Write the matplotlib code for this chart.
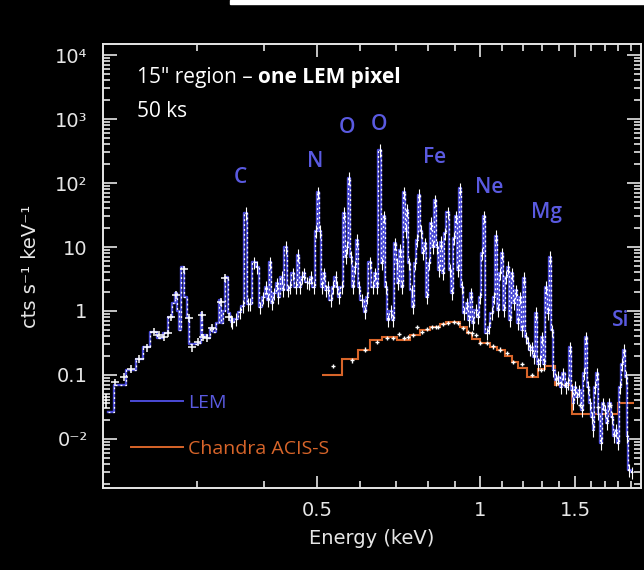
import numpy as np
import matplotlib
matplotlib.use('Agg')
import matplotlib.pyplot as plt
from matplotlib.lines import Line2D
from matplotlib.patches import Rectangle
from matplotlib.ticker import NullFormatter, LogLocator, FixedLocator

# LEM model spectrum (bin centres in keV, cts/s/keV)
lem_energy = [
    0.2055, 0.216, 0.228, 0.235, 0.242, 0.249, 0.2576, 0.2631, 0.2676, 0.2722,
    0.2746, 0.2769, 0.2793, 0.2817, 0.2853, 0.2890, 0.2915, 0.2977, 0.3041, 0.3054,
    0.3067, 0.3106, 0.3159, 0.3186, 0.3240, 0.3282, 0.3311, 0.3325, 0.3367, 0.3396,
    0.3440, 0.3469, 0.3483, 0.3543, 0.3604, 0.3650, 0.3697, 0.3729, 0.3761, 0.3825,
    0.3875, 0.3925, 0.3975, 0.4026, 0.4061, 0.4096, 0.4131, 0.4166, 0.4219, 0.4236,
    0.4309, 0.4327, 0.4383, 0.4420, 0.4458, 0.4515, 0.4573, 0.4612, 0.4652, 0.4691,
    0.4731, 0.4792, 0.4833, 0.4874, 0.4937, 0.4979, 0.5021, 0.5064, 0.5108, 0.5151,
    0.5195, 0.5240, 0.5307, 0.5352, 0.5421, 0.5444, 0.5490, 0.5561, 0.5608, 0.5656,
    0.5680, 0.5729, 0.5778, 0.5828, 0.5877, 0.5928, 0.5978, 0.6055, 0.6133, 0.6185,
    0.6264, 0.6345, 0.6399, 0.6453, 0.6536, 0.6592, 0.6648, 0.6705, 0.6762, 0.6849,
    0.6907, 0.6966, 0.7026, 0.7056, 0.7116, 0.7177, 0.7238, 0.7300, 0.7331, 0.7393,
    0.7488, 0.7520, 0.7584, 0.7649, 0.7714, 0.7780, 0.7847, 0.7914, 0.7982, 0.8050,
    0.8119, 0.8188, 0.8259, 0.8329, 0.8400, 0.8472, 0.8545, 0.8618, 0.8726, 0.8801,
    0.8876, 0.8953, 0.9029, 0.9107, 0.9185, 0.9263, 0.9343, 0.9462, 0.9543, 0.9625,
    0.9707, 0.9831, 0.9915, 1.0000, 1.0086, 1.0171, 1.0302, 1.0390, 1.0524, 1.0614,
    1.0704, 1.0796, 1.0889, 1.0982, 1.1075, 1.1170, 1.1266, 1.1362, 1.1459, 1.1557,
    1.1656, 1.1756, 1.1856, 1.1958, 1.2060, 1.2163, 1.2267, 1.2372, 1.2478, 1.2585,
    1.2692, 1.2801, 1.2910, 1.3021, 1.3132, 1.3244, 1.3358, 1.3472, 1.3587, 1.3645,
    1.3820, 1.3939, 1.4117, 1.4238, 1.4420, 1.4544, 1.4668, 1.4794, 1.4857, 1.4984,
    1.5112, 1.5241, 1.5437, 1.5569, 1.5702, 1.5837, 1.5972, 1.6109, 1.6177, 1.6316,
    1.6455, 1.6526, 1.6738, 1.6881, 1.7026, 1.7171, 1.7318, 1.7541, 1.7691, 1.7842,
    1.7995, 1.8149, 1.8304, 1.8460, 1.8618, 1.8698, 1.8858, 1.9100,
]
lem_rate = [
    0.026, 0.07, 0.12, 0.18, 0.27, 0.47, 0.38, 0.45, 0.8, 1.33,
    1.9, 1.0, 0.5, 4.9, 1.65, 0.8, 0.3, 0.31, 0.32, 0.93,
    0.39, 0.42, 0.38, 0.54, 0.47, 0.65, 1.5, 0.65, 1.0, 3.4,
    0.93, 0.72, 0.67, 0.75, 0.96, 1.2, 34, 1.3, 1.3, 5.8,
    4.9, 1.15, 1.65, 2.4, 1.5, 5.8, 1.33, 1.9, 2.7, 1.65,
    3.4, 2.1, 10, 2.1, 2.4, 3.9, 2.4, 7.5, 2.4, 3.4,
    3.9, 2.8, 2.7, 3.4, 2.4, 18, 72, 18, 2.4, 3.9,
    2.1, 2.4, 1.5, 2.4, 3.4, 2.4, 1.65, 2.4, 34, 7,
    10, 120, 7, 2.4, 4.9, 13, 2.4, 1.5, 0.96, 1.65,
    5.8, 2.4, 3.9, 2.4, 330, 5.6, 30, 2.4, 0.72, 1.0,
    0.72, 11.5, 5.6, 2.7, 9, 2.4, 72, 18, 38, 5.6,
    2.1, 1.15, 5.6, 13, 65, 18, 8, 11.5, 1.65, 5.6,
    24, 10, 54, 10, 4.4, 12, 3.9, 16.5, 35, 4.4,
    1.9, 14, 30, 4.4, 83, 2.4, 0.93, 1.33, 0.72, 1.9,
    0.65, 1.05, 0.8, 1.65, 8, 30, 0.45, 0.56, 0.93, 1.65,
    15, 1.05, 3.9, 8, 1.05, 3.4, 4.9, 0.72, 3.9, 1.33,
    2.1, 0.65, 1.65, 0.5, 3.3, 0.39, 0.32, 0.25, 0.27, 0.19,
    0.93, 0.15, 0.17, 0.39, 0.15, 2.4, 0.93, 7, 0.5, 0.12,
    0.085, 0.093, 0.065, 0.107, 0.065, 0.075, 0.27, 0.058, 0.036, 0.065,
    0.045, 0.058, 0.028, 0.107, 0.39, 0.065, 0.036, 0.022, 0.014, 0.065,
    0.107, 0.025, 0.0087, 0.036, 0.028, 0.018, 0.036, 0.022, 0.011, 0.014,
    0.0087, 0.065, 0.15, 0.25, 0.093, 0.011, 0.0033, 0.003,
]

# LEM data points below the C line (wide bins, drawn as crosses)
lem_data_energy = [0.2040, 0.2040, 0.2120, 0.2200, 0.2270, 0.2345, 0.2430, 0.2500,
                   0.2555, 0.2610, 0.2655, 0.2690, 0.2746, 0.2840, 0.2900, 0.2940,
                   0.3010, 0.3067, 0.3080, 0.3133, 0.3200, 0.3325, 0.3382, 0.3440]
lem_data_rate = [0.045, 0.036, 0.077, 0.093, 0.124, 0.18, 0.27, 0.47,
                 0.42, 0.39, 0.45, 0.8, 1.8, 4.5, 0.78, 0.27,
                 0.33, 0.87, 0.39, 0.38, 0.54, 1.4, 3.3, 0.8]

# Chandra ACIS-S folded model (bin edges in keV)
acis_edges = [0.5108, 0.5561, 0.5953, 0.6264, 0.6592, 0.7026, 0.7424, 0.7747, 0.8085,
              0.8436, 0.8655, 0.9185, 0.9462, 0.9666, 1.0000, 1.0434, 1.0750, 1.1122,
              1.1459, 1.1756, 1.2215, 1.2801, 1.3183, 1.3761, 1.4794, 1.7995, 1.9250]
acis_rate = [0.1, 0.18, 0.25, 0.35, 0.39, 0.35, 0.42, 0.5, 0.56,
             0.62, 0.67, 0.56, 0.45, 0.36, 0.32, 0.27, 0.25, 0.2,
             0.16, 0.13, 0.093, 0.125, 0.14, 0.07, 0.025, 0.036]

# Chandra ACIS-S data points
acis_data_energy = [0.5352, 0.5803, 0.6133, 0.6453, 0.6734, 0.6907, 0.7086, 0.7238,
                    0.7362, 0.7520, 0.7649, 0.7813, 0.7982, 0.8153, 0.8294, 0.8365,
                    0.8545, 0.8726, 0.8953, 0.9107, 0.9303, 0.9502, 0.9666, 0.9831,
                    1.0000, 1.0302, 1.0568, 1.0889, 1.1217, 1.1508, 1.1958, 1.2478,
                    1.2966, 1.3939, 1.4355, 1.5299, 1.6526, 1.7392]
acis_data_rate = [0.14, 0.17, 0.25, 0.33, 0.38, 0.38, 0.44, 0.38,
                  0.39, 0.42, 0.56, 0.47, 0.52, 0.56, 0.56, 0.56,
                  0.63, 0.65, 0.67, 0.65, 0.54, 0.47, 0.45, 0.42,
                  0.32, 0.32, 0.28, 0.25, 0.22, 0.16, 0.15, 0.10,
                  0.12, 0.075, 0.07, 0.034, 0.032, 0.034]

# element labels: (text, energy, height)
line_labels = [('C', 0.3617, 124), ('N', 0.4958, 213), ('O', 0.5680, 750),
               ('O', 0.6506, 835), ('Fe', 0.8259, 246), ('Ne', 1.039, 84),
               ('Mg', 1.3244, 34), ('Si', 1.8150, 0.72)]

y_ticks = [1e4, 1e3, 1e2, 10, 1, 0.1, 0.01]
y_ticklabels = ['10\u2074', '10\u00b3', '10\u00b2', '10', '1', '0.1', '0\u207b\u00b2']
x_ticks = [0.5, 1, 1.5]
x_ticklabels = ['0.5', '1', '1.5']
x_minor = [0.3, 0.4, 0.6, 0.7, 0.8, 0.9, 1.1, 1.2, 1.3, 1.4, 1.6, 1.7, 1.8, 1.9]

LEM_BLUE = '#4b4bd6'
LABEL_BLUE = '#5a5ae0'
ACIS_ORANGE = '#d8652a'
FG = '#e6e6e6'

plt.rcParams['font.family'] = ['DejaVu Sans']

fig = plt.figure(figsize=(6.44, 5.70), dpi=100, facecolor='black')
ax = fig.add_axes([103/644, 1-488/570, 538/644, 444/570], facecolor='black')
fig.patches.append(Rectangle((230/644, 1-4/570), 1-230/644, 4/570,
                             transform=fig.transFigure, color='white', zorder=0))

ax.set_xscale('log')
ax.set_yscale('log')
ax.set_xlim(0.2013, 1.983)
ax.set_ylim(0.001715, 14860)

e = np.array(lem_energy)
r = np.array(lem_rate)

# LEM model
ax.step(e, r, where='mid', color=LEM_BLUE, lw=1.7, zorder=3)

# LEM data on top of the model
hi = e > 0.345
ax.errorbar(e[hi], r[hi], xerr=0.004*e[hi], yerr=[0.22*r[hi], 0.22*r[hi]],
            fmt='none', ecolor='white', elinewidth=0.8, zorder=4)
ax.step(e, r, where='mid', color='white', lw=0.9, dashes=(1.5, 2.4), zorder=4)
de = np.array(lem_data_energy)
dr = np.array(lem_data_rate)
ax.errorbar(de, dr, xerr=0.016*de, yerr=0.14*dr, fmt='none', ecolor='white',
            elinewidth=1.1, zorder=5)

# Chandra model and data
ax.stairs(acis_rate, acis_edges, baseline=None, color=ACIS_ORANGE, lw=1.5, zorder=2)
ce = np.array(acis_data_energy)
cr = np.array(acis_data_rate)
ax.errorbar(ce, cr, xerr=0.01*ce, yerr=0.08*cr, fmt='none', ecolor='white',
            elinewidth=1.0, zorder=5)

for txt, en, h in line_labels:
    ax.text(en, h, txt, color=LABEL_BLUE, fontsize=15, fontfamily='Open Sans',
            fontweight='semibold', ha='center', va='center', zorder=6)

# header: plain part then bold part placed right after it
head = fig.text(137/644, 1-77/570, '15" region \u2013 ', color='white', fontsize=15,
                fontfamily='Open Sans', va='center')
fig.canvas.draw()
bb = head.get_window_extent().transformed(fig.transFigure.inverted())
fig.text(bb.x1, 1-77/570, 'one LEM pixel', color='white', fontsize=15,
         fontfamily='Open Sans', fontweight='bold', va='center')
fig.text(137/644, 1-112/570, '50 ks', color='white', fontsize=15,
         fontfamily='Open Sans', va='center')

handles = [Line2D([], [], color=LEM_BLUE, lw=1.4),
           Line2D([], [], color=ACIS_ORANGE, lw=1.4)]
leg = ax.legend(handles, ['LEM', 'Chandra ACIS-S'], loc='upper left',
                bbox_to_anchor=(0.052, 0.212), frameon=False, borderpad=0,
                borderaxespad=0, handlelength=2.7, handletextpad=0.25,
                labelspacing=1.45, prop={'family': 'Open Sans', 'size': 14})
for txt, col in zip(leg.get_texts(), [LABEL_BLUE, ACIS_ORANGE]):
    txt.set_color(col)

ax.set_yticks(y_ticks)
ax.set_yticklabels(y_ticklabels)
ax.yaxis.set_minor_locator(LogLocator(base=10, subs=np.arange(2, 10)))
ax.yaxis.set_minor_formatter(NullFormatter())
ax.set_xticks(x_ticks)
ax.set_xticklabels(x_ticklabels)
ax.xaxis.set_minor_locator(FixedLocator(x_minor))
ax.xaxis.set_minor_formatter(NullFormatter())

ax.tick_params(which='both', direction='in', top=True, right=True, colors=FG,
               labelsize=14, width=1.2)
ax.tick_params(axis='y', which='major', length=10, pad=11)
ax.tick_params(axis='y', which='minor', length=5)
ax.tick_params(axis='x', which='major', length=9, pad=9)
ax.tick_params(axis='x', which='minor', length=5)
for sp in ax.spines.values():
    sp.set_color(FG)
    sp.set_linewidth(1.4)

ax.set_xlabel('Energy (keV)', color=FG, fontsize=14, labelpad=7)
ax.set_ylabel('cts s\u207b\u00b9 keV\u207b\u00b9', color=FG, fontsize=14, labelpad=11)

fig.savefig('out.png', dpi=100, facecolor='black')
